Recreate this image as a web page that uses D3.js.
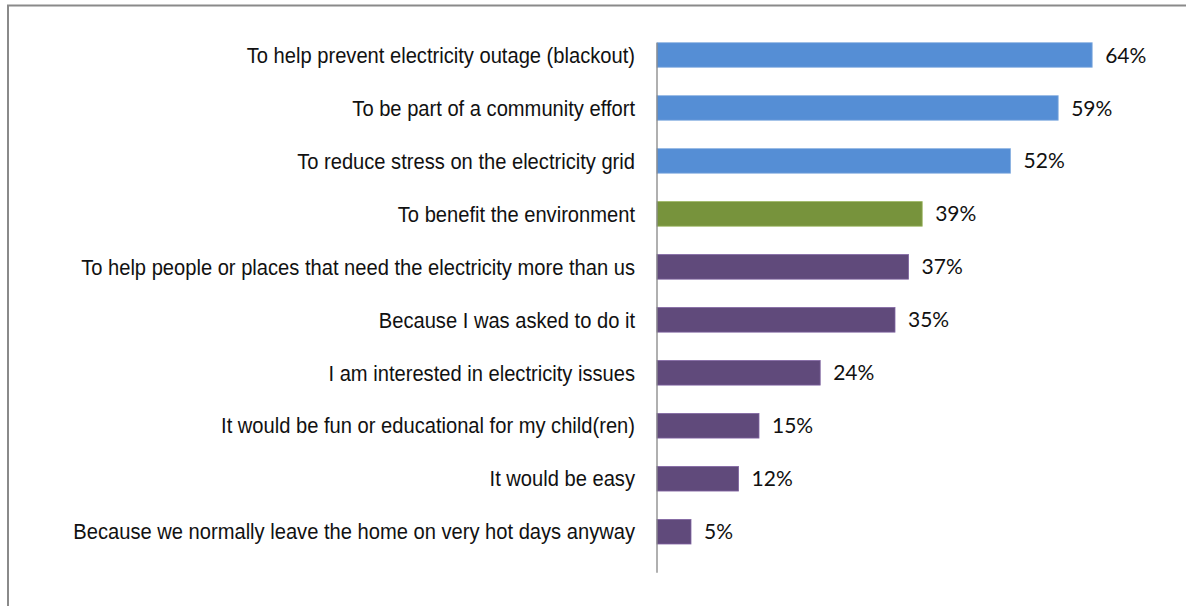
<!DOCTYPE html>
<html>
<head>
<meta charset="utf-8">
<script src="https://cdn.jsdelivr.net/npm/d3@7/dist/d3.min.js"></script>
<style>
  html, body { margin: 0; padding: 0; background: #fff; }
  svg { display: block; }
</style>
</head>
<body>
<svg id="chart" width="1194" height="606"></svg>
<script>
// Reasons for reducing electricity use on very hot days (% of respondents)
const reasons = [
  "To help prevent electricity outage (blackout)",
  "To be part of a community effort",
  "To reduce stress on the electricity grid",
  "To benefit the environment",
  "To help people or places that need the electricity more than us",
  "Because I was asked to do it",
  "I am interested in electricity issues",
  "It would be fun or educational for my child(ren)",
  "It would be easy",
  "Because we normally leave the home on very hot days anyway"
];
const shares = [64, 59, 52, 39, 37, 35, 24, 15, 12, 5];
// Grouping used for colouring: grid-related, environmental, other
const groups = ["grid", "grid", "grid", "env", "other", "other", "other", "other", "other", "other"];

const groupFill = { grid: "#558ED5", env: "#77933C", other: "#604A7B" };
const groupEdge = { grid: "#8DB3E2", env: "#9BB65F", other: "#8064A2" };

const data = reasons.map((r, i) => ({ reason: r, value: shares[i], group: groups[i] }));

const svg = d3.select("#chart");

// Outer frame (top and left edges)
svg.append("path")
  .attr("d", "M8,606 V5.5 H1186")
  .attr("fill", "none")
  .attr("stroke", "#8a8a8a")
  .attr("stroke-width", 2);

const x = d3.scaleLinear().domain([0, 70]).range([657, 657 + 6.8 * 70]);
const y = d3.scaleBand()
  .domain(reasons)
  .range([28.5, 558.2])
  .paddingInner(0.536)
  .paddingOuter(0.268);

// Bars
svg.append("g").selectAll("rect")
  .data(data)
  .join("rect")
  .attr("x", x(0))
  .attr("y", d => y(d.reason))
  .attr("width", d => x(d.value) - x(0))
  .attr("height", y.bandwidth())
  .attr("fill", d => groupFill[d.group])
  .attr("stroke", d => groupEdge[d.group])
  .attr("stroke-width", 0.8);

// Vertical category axis line
svg.append("line")
  .attr("x1", x(0)).attr("x2", x(0))
  .attr("y1", y(reasons[0])).attr("y2", y.range()[1] + 14.5)
  .attr("stroke", "#868686")
  .attr("stroke-width", 1.3);

// Category labels
const axis = svg.append("g")
  .attr("transform", `translate(${x(0)},0)`)
  .call(d3.axisLeft(y).tickSize(0).tickPadding(22));
axis.select(".domain").remove();
axis.selectAll("text")
  .attr("font-family", "'Liberation Sans Narrow', 'Arial Narrow', 'Liberation Sans', Arial, sans-serif")
  .attr("font-size", 22)
  .attr("fill", "#111")
  .attr("dy", "0.35em");

// Condense labels horizontally so the longest one spans its set width
(function fitLabels() {
  let maxW = 0;
  axis.selectAll("text").each(function () { maxW = Math.max(maxW, this.getComputedTextLength()); });
  const target = 562;
  const k = target / maxW;
  axis.selectAll(".tick text").each(function () {
    const t = d3.select(this);
    const xx = +t.attr("x") || -22;
    t.attr("transform", `scale(${k},1)`).attr("x", xx / k);
  });
})();

// Value labels
svg.append("g").selectAll("text")
  .data(data)
  .join("text")
  .attr("x", d => x(d.value) + 13)
  .attr("y", d => y(d.reason) + y.bandwidth() / 2)
  .attr("dy", "0.36em")
  .attr("font-family", "Lato, 'Open Sans', sans-serif")
  .attr("font-size", 21)
  .attr("fill", "#111")
  .text(d => d.value + "%");
</script>
</body>
</html>
